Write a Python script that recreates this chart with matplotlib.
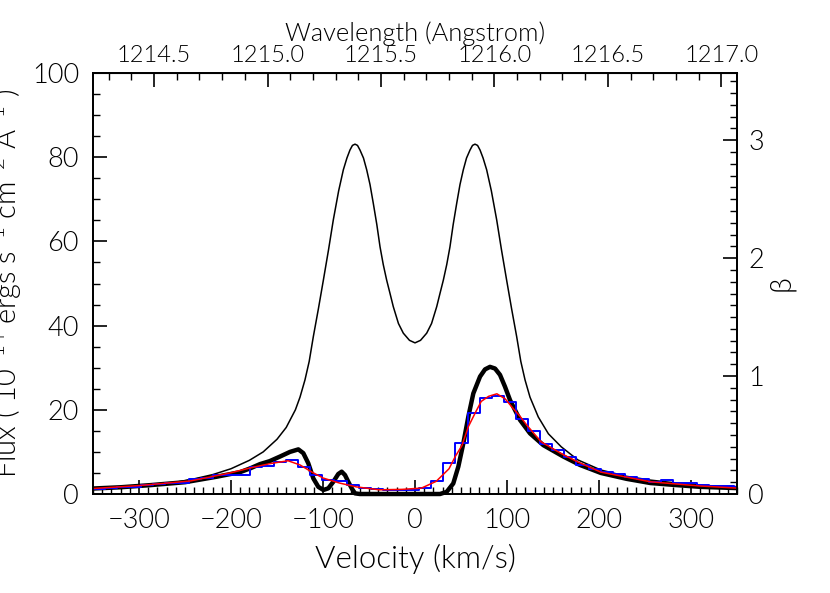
import numpy as np
import matplotlib
matplotlib.use("Agg")
import matplotlib.pyplot as plt
from matplotlib.ticker import MultipleLocator, FormatStrFormatter

# ---------------- data ----------------
# intrinsic (unabsorbed) double-peaked profile: thin black
v_intr = [-350, -320, -300, -280, -260, -240, -220, -200, -180, -165, -150, -140,
          -130, -125, -119.6, -115, -110.5, -105, -99.6, -94, -88.8, -83, -77.9,
          -74, -70.7, -68, -65.2, -62.5, -59.8, -56, -52.5, -48.9, -45.3, -41.5,
          -38.0, -34.5, -30.8, -27, -23.6, -18, -12.7, -6, 0,
          6, 12.7, 18, 23.6, 27, 30.8, 34.5, 38.0, 41.5, 45.3, 48.9, 52.5, 56,
          59.8, 62.5, 65.2, 68, 70.7, 74, 77.9, 83, 88.8, 94, 99.6, 105, 110.5,
          115, 119.6, 125, 134, 145, 159, 177, 202, 230, 256, 285, 310, 330, 350]
f_intr = [1.2, 1.5, 1.8, 2.2, 2.8, 3.6, 4.6, 6.0, 8.0, 10.0, 13.0, 15.8,
          20.0, 23.0, 27.1, 31.5, 37.4, 44.0, 50.8, 58.0, 65.1, 72.0, 77.0,
          79.8, 81.7, 82.8, 83.1, 82.8, 81.7, 79.8, 77.0, 73.5, 69.0, 64.0,
          58.7, 54.5, 50.8, 47.5, 44.5, 40.5, 38.2, 36.5, 35.9,
          36.5, 38.2, 40.5, 44.5, 47.5, 50.8, 54.5, 58.7, 64.0, 69.0, 73.5, 77.0, 79.8,
          81.7, 82.8, 83.1, 82.8, 81.7, 79.8, 77.0, 72.0, 65.1, 58.0, 50.8, 44.0, 37.4,
          31.5, 27.1, 23.0, 18.3, 14.3, 11.2, 8.1, 5.7, 4.2, 3.3, 2.6, 2.1, 1.7, 1.3]

# attenuated model profile: thick black
v_model = [-350, -320, -288, -250, -215.6, -190, -179, -168.5, -158, -146.7, -135.9,
           -126.8, -121.4, -116, -110.5, -105.1, -99.6, -94.2, -88.8, -83.4,
           -79.7, -76.1, -72.5, -68.8, -65.2, -60, 27.2, 34.4, 41.6, 47.1, 52.5,
           58.0, 63.4, 70.7, 76.1, 81.5, 87.0, 92.4, 97.8, 103.3, 114.1, 125.0,
           139.5, 161.2, 179.3, 202, 230, 256, 285, 310, 350]
f_model = [1.3, 1.6, 2.1, 2.8, 4.1, 5.2, 6.1, 7.1, 7.8, 8.9, 10.0,
           10.6, 9.7, 7.3, 3.7, 1.7, 0.95, 1.35, 2.9, 4.75,
           5.3, 4.5, 2.9, 1.35, 0.15, 0.0, 0.0, 0.5, 2.5, 6.5, 12.0,
           18.4, 23.9, 27.9, 29.6, 30.2, 29.8, 28.3, 25.5, 22.3, 17.6, 14.4,
           11.6, 8.9, 6.9, 5.0, 3.6, 2.6, 2.1, 1.7, 1.4]

# smoothed observed profile: red
v_smooth = [-350, -300, -244, -201, -179, -158, -138, -125, -112, -100, -82, -64,
            -39, -14, 7, 15, 23, 37, 44, 51, 58, 66, 72, 80, 89, 98, 106, 114,
            121, 137, 159, 177, 202, 256, 310, 350]
f_smooth = [1.3, 2.0, 3.1, 5.0, 6.2, 7.2, 7.9, 6.9, 5.2, 3.8, 2.6, 1.7,
            1.0, 1.1, 1.4, 2.2, 3.0, 6.0, 9.0, 11.5, 16.0, 19.5, 22.0, 23.2, 23.8, 22.6, 20.5, 18.5,
            16.5, 12.4, 9.6, 7.6, 5.2, 2.9, 1.9, 1.4]

# observed binned data: blue histogram
v_obs = [-357.2, -344.0, -330.9, -317.7, -304.5, -291.4, -278.3, -265.1, -252.0,
         -238.8, -225.7, -212.5, -199.4, -186.2, -173.1, -159.9, -146.8, -133.6,
         -120.5, -107.3, -94.2, -81.0, -67.9, -54.7, -41.6, -28.4, -15.3, -2.1,
         11.1, 24.2, 37.4, 50.5, 63.7, 76.8, 90.0, 103.1, 116.3, 129.4, 142.6,
         155.7, 168.9, 182.0, 195.2, 208.3, 221.5, 234.6, 247.8, 260.9, 274.1,
         287.2, 300.4, 313.5, 326.7, 339.8, 353.0]
f_obs = [1.3, 1.3, 1.5, 1.6, 1.6, 2.1, 2.3, 2.5, 2.5,
         3.6, 3.7, 4.4, 4.4, 4.5, 6.5, 6.6, 7.5, 8.1,
         6.4, 4.6, 3.3, 3.0, 2.1, 1.4, 1.1, 1.0, 1.0, 1.0,
         1.4, 3.0, 7.4, 12.1, 19.3, 22.9, 23.3, 21.9, 17.9, 15.0, 11.9,
         10.5, 8.8, 7.0, 5.9, 5.3, 4.8, 4.1, 3.6, 2.9, 3.3,
         2.7, 2.7, 2.1, 1.9, 1.9, 1.6]

lam0 = 1215.65          # Angstrom, line centre
c_kms = 299792.458
x_range = (-350, 350)
flux_range = (0, 100)
beta_range = (0, 3.57)

# ---------------- figure ----------------
plt.rcParams['font.family'] = ['Lato', 'DejaVu Sans']
plt.rcParams['font.weight'] = 300
plt.rcParams['axes.labelweight'] = 300
plt.rcParams['mathtext.fontset'] = 'custom'
plt.rcParams['mathtext.rm'] = 'Lato:weight=300'
plt.rcParams['mathtext.it'] = 'Lato:weight=300:italic'
plt.rcParams['axes.unicode_minus'] = True

fig = plt.figure(figsize=(8.30, 5.93), dpi=100)
ax = fig.add_axes([93/830, 1 - 494/593, (737 - 93)/830, (494 - 73)/593])

ax.plot(v_intr, f_intr, color='black', lw=1.1, zorder=2)
ax.plot(v_model, f_model, color='black', lw=3.2, zorder=3,
        solid_capstyle='butt', solid_joinstyle='round', clip_on=False)
ax.step(v_obs, f_obs, where='mid', color='blue', lw=1.4, zorder=4)
ax.plot(v_smooth, f_smooth, color='red', lw=1.1, zorder=5)

ax.set_xlim(*x_range)
ax.set_ylim(*flux_range)
ax.xaxis.set_major_locator(MultipleLocator(100))
ax.xaxis.set_minor_locator(MultipleLocator(10))
ax.yaxis.set_major_locator(MultipleLocator(20))
ax.yaxis.set_minor_locator(MultipleLocator(5))
ax.tick_params(which='major', direction='in', length=10, width=1.2, labelsize=19.5,
               top=False, right=False, pad=10)
ax.tick_params(which='minor', direction='in', length=5, width=1.0, top=False, right=False)
for s in ax.spines.values():
    s.set_linewidth(1.3)

ax.set_xlabel('Velocity (km/s)', fontsize=22.5, labelpad=8)
ax.set_ylabel(r'Flux ( 10$^{-14}$ ergs s$^{-1}$ cm$^{-2}$ Å$^{-1}$ )', fontsize=21)
ax.yaxis.set_label_coords(-0.109, 0.5)

# secondary top axis in wavelength
def v2lam(v):
    return lam0 * (1 + np.asarray(v) / c_kms)

def lam2v(l):
    return (np.asarray(l) / lam0 - 1) * c_kms

sec = ax.secondary_xaxis('top', functions=(v2lam, lam2v))
sec.xaxis.set_major_locator(MultipleLocator(0.5))
sec.xaxis.set_minor_locator(MultipleLocator(0.1))
sec.xaxis.set_major_formatter(FormatStrFormatter('%.1f'))
sec.tick_params(which='major', direction='in', length=10, width=1.2, labelsize=17, pad=5)
sec.tick_params(which='minor', direction='in', length=5, width=1.0)
sec.set_xlabel('Wavelength (Angstrom)', fontsize=18.3, labelpad=3)

# right axis: beta
ax2 = ax.twinx()
ax2.set_ylim(*beta_range)
ax2.yaxis.set_major_locator(MultipleLocator(1))
ax2.yaxis.set_minor_locator(MultipleLocator(0.1))
ax2.tick_params(which='major', direction='in', length=10, width=1.2, labelsize=19.5, pad=8)
ax2.tick_params(which='minor', direction='in', length=5, width=1.0)
ax2.set_ylabel('β', fontsize=21, labelpad=3)
for s in ax2.spines.values():
    s.set_linewidth(1.3)

fig.savefig('out.png', dpi=100)
